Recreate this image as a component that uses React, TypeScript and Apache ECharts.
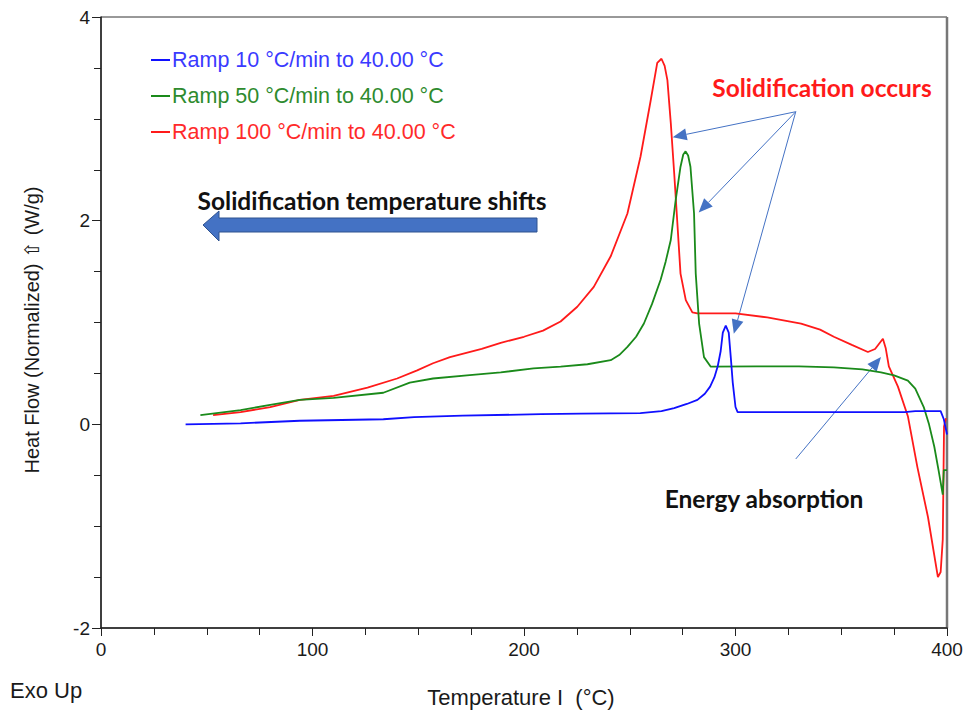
import React, { useEffect, useRef } from "react";
import * as echarts from "echarts";

const seriesNames = [
  "Ramp 10 °C/min to 40.00 °C",
  "Ramp 50 °C/min to 40.00 °C",
  "Ramp 100 °C/min to 40.00 °C",
];
const seriesColors = ["#1010ff", "#1a8a1a", "#ff1a1a"];
const legendTextColors = ["#3a3aff", "#2e8b2e", "#ff2a2a"];

const ramp10: [number, number][] = [
  [40, 0], [66, 0.01], [94, 0.035], [133.5, 0.05], [148, 0.07], [171, 0.085], [208, 0.1],
  [227, 0.105], [255, 0.11], [265, 0.13], [271, 0.16], [277, 0.2], [282, 0.24], [285.5, 0.3],
  [288, 0.37], [290, 0.46], [291.6, 0.57], [293, 0.72], [294, 0.9], [295.4, 0.97], [296.8, 0.9],
  [297.8, 0.65], [298.7, 0.41], [300, 0.17], [301, 0.12], [320, 0.12], [350, 0.12], [380, 0.12],
  [385, 0.13], [397, 0.13], [398.5, 0.05], [399.5, -0.05], [400, -0.1],
];

const ramp50: [number, number][] = [
  [47, 0.09], [66, 0.14], [80, 0.19], [94, 0.24], [110, 0.26], [133.5, 0.31], [146, 0.41],
  [157, 0.45], [173, 0.48], [189, 0.51], [204.5, 0.55], [217.3, 0.566], [230, 0.59], [241, 0.63],
  [245, 0.68], [248.9, 0.76], [253, 0.86], [256.7, 0.99], [260.5, 1.18], [264.6, 1.42],
  [267, 1.6], [269.4, 1.81], [271.7, 2.2], [274, 2.53], [275.3, 2.65], [276.4, 2.68],
  [277.6, 2.64], [278.7, 2.53], [280.4, 2.07], [281.2, 1.48], [282.8, 0.99], [285.1, 0.66],
  [288.3, 0.566], [310, 0.57], [330, 0.57], [346.5, 0.56], [360, 0.54], [368.8, 0.51], [375, 0.48],
  [381.5, 0.43], [385, 0.35], [389, 0.17], [391.5, 0], [394, -0.22], [396, -0.45], [398, -0.69],
  [398.5, -0.45], [400, -0.45],
];

const ramp100: [number, number][] = [
  [53, 0.09], [66, 0.12], [80, 0.17], [94, 0.24], [110, 0.28], [126, 0.36], [140, 0.45],
  [149.5, 0.53], [157, 0.6], [165, 0.66], [180, 0.74], [189, 0.8], [200, 0.86], [209, 0.92],
  [217.3, 1.01], [225.2, 1.155], [233, 1.35], [241, 1.65], [248.9, 2.07], [255.1, 2.63],
  [259.9, 3.18], [263, 3.55], [265, 3.59], [266.5, 3.52], [267.8, 3.38], [269.4, 2.96],
  [271, 2.47], [272.5, 1.98], [274, 1.48], [276.5, 1.22], [279.6, 1.1], [282, 1.09],
  [300, 1.09], [315, 1.05], [331, 0.99], [340, 0.93], [346.5, 0.86], [355, 0.78],
  [362.6, 0.71], [366, 0.74], [369.7, 0.84], [371, 0.75], [372.5, 0.57], [376.8, 0.37],
  [381.5, 0.08], [386, -0.42], [391, -0.91], [395.7, -1.5], [397, -1.45], [398, -1.13],
  [398.6, -0.02], [399.5, 0.06],
];

const xTicks = { min: 0, max: 400, interval: 100 };
const yTicks = { min: -2, max: 4, interval: 2 };

// Annotation arrows in data coordinates: [fromX, fromY, toX, toY]
const occursArrows: [number, number, number, number][] = [
  [328.5, 3.07, 270.3, 2.82],
  [328.5, 3.07, 282.6, 2.08],
  [328.5, 3.07, 299.2, 0.89],
];
const absorptionArrow: [number, number, number, number] = [328.5, -0.34, 368.8, 0.66];

const ARROW = "#4472C4";

function arrowGraphics(p0: number[], p1: number[]) {
  const dx = p1[0] - p0[0];
  const dy = p1[1] - p0[1];
  const len = Math.sqrt(dx * dx + dy * dy);
  const ux = dx / len;
  const uy = dy / len;
  const hl = 14;
  const hw = 6;
  const bx = p1[0] - ux * hl;
  const by = p1[1] - uy * hl;
  return [
    {
      type: "line",
      shape: { x1: p0[0], y1: p0[1], x2: bx, y2: by },
      style: { stroke: ARROW, lineWidth: 1 },
      silent: true,
    },
    {
      type: "polygon",
      shape: {
        points: [
          [p1[0], p1[1]],
          [bx - uy * hw, by + ux * hw],
          [bx + uy * hw, by - ux * hw],
        ],
      },
      style: { fill: ARROW },
      silent: true,
    },
  ];
}

export default function App() {
  const ref = useRef<HTMLDivElement>(null);

  useEffect(() => {
    if (!ref.current) return;
    const chart = echarts.init(ref.current, undefined, { renderer: "svg" });
    const axisColor = "#222";
    const tickFont = { fontSize: 19, color: "#1a1a1a", fontFamily: "Liberation Sans, Arial, sans-serif" };
    const seriesData = [ramp10, ramp50, ramp100];
    chart.setOption({
      animation: false,
      backgroundColor: "#fff",
      grid: { left: 101, right: 25, top: 17, bottom: 87, show: true, borderColor: "#333", borderWidth: 1 },
      legend: {
        orient: "vertical",
        left: 146,
        top: 44,
        itemWidth: 19,
        itemHeight: 2,
        itemGap: 14,
        icon: "rect",
        data: seriesNames.map((n, i) => ({
          name: n,
          textStyle: { color: legendTextColors[i] },
        })),
        textStyle: { fontSize: 21.5, fontFamily: "Liberation Sans, Arial, sans-serif", padding: [0, 0, 0, -3] },
      },
      xAxis: {
        type: "value",
        min: xTicks.min,
        max: xTicks.max,
        interval: xTicks.interval,
        axisLine: { onZero: false, lineStyle: { color: axisColor, width: 1.5 } },
        axisTick: { show: true, length: 8, lineStyle: { color: axisColor } },
        minorTick: { show: true, splitNumber: 4, length: 7, lineStyle: { color: axisColor } },
        splitLine: { show: false },
        axisLabel: { ...tickFont, margin: 12 },
      },
      yAxis: {
        type: "value",
        min: yTicks.min,
        max: yTicks.max,
        interval: yTicks.interval,
        axisLine: { onZero: false, lineStyle: { color: axisColor, width: 1.5 } },
        axisTick: { show: true, length: 9, lineStyle: { color: axisColor } },
        minorTick: { show: true, splitNumber: 4, length: 7, lineStyle: { color: axisColor } },
        splitLine: { show: false },
        axisLabel: { ...tickFont, margin: 11 },
      },
      series: seriesData.map((d, i) => ({
        name: seriesNames[i],
        type: "line",
        data: d,
        showSymbol: false,
        smooth: false,
        lineStyle: { color: seriesColors[i], width: 1.8 },
        itemStyle: { color: seriesColors[i] },
        z: 3 - i,
      })),
    });

    const toPx = (x: number, y: number) => chart.convertToPixel({ gridIndex: 0 }, [x, y]) as number[];
    const arrows: any[] = [];
    occursArrows.forEach((a) => arrows.push(...arrowGraphics(toPx(a[0], a[1]), toPx(a[2], a[3]))));
    arrows.push(...arrowGraphics(toPx(absorptionArrow[0], absorptionArrow[1]), toPx(absorptionArrow[2], absorptionArrow[3])));

    const annFont = "Lato, Open Sans, sans-serif";
    chart.setOption({
      graphic: [
        // right border (gray, thicker)
        {
          type: "line",
          shape: { x1: 947, y1: 17, x2: 947, y2: 628 },
          style: { stroke: "#777", lineWidth: 2.5 },
          silent: true,
        },
        // big arrow
        {
          type: "polygon",
          shape: {
            points: [
              [537, 218], [219, 218], [219, 211], [203, 225], [219, 241], [219, 232], [537, 232],
            ],
          },
          style: { fill: ARROW, stroke: "#2F528F", lineWidth: 1 },
          silent: true,
        },
        ...arrows,
        {
          type: "text",
          x: 372,
          y: 200,
          style: {
            text: "Solidification temperature shifts",
            fill: "#111",
            font: `bold 24.5px ${annFont}`,
            textAlign: "center",
            textVerticalAlign: "middle",
          },
        },
        {
          type: "text",
          x: 822,
          y: 87,
          style: {
            text: "Solidification occurs",
            fill: "#ff1a1a",
            font: `bold 24.5px ${annFont}`,
            textAlign: "center",
            textVerticalAlign: "middle",
          },
        },
        {
          type: "text",
          x: 764,
          y: 498,
          style: {
            text: "Energy absorption",
            fill: "#111",
            font: `bold 24.5px ${annFont}`,
            textAlign: "center",
            textVerticalAlign: "middle",
          },
        },
        {
          type: "text",
          x: 32,
          y: 330,
          rotation: Math.PI / 2,
          style: {
            text: "Heat Flow (Normalized) \u21E7 (W/g)",
            fill: "#1a1a1a",
            font: "20px Liberation Sans, Arial, sans-serif",
            textAlign: "center",
            textVerticalAlign: "middle",
          },
        },
        {
          type: "text",
          x: 521,
          y: 697,
          style: {
            text: "Temperature \u0399  (°C)",
            fill: "#1a1a1a",
            font: "22px Liberation Sans, Arial, sans-serif",
            textAlign: "center",
            textVerticalAlign: "middle",
          },
        },
        {
          type: "text",
          x: 10,
          y: 690,
          style: {
            text: "Exo Up",
            fill: "#1a1a1a",
            font: "22px Liberation Sans, Arial, sans-serif",
            textAlign: "left",
            textVerticalAlign: "middle",
          },
        },
      ],
    });

    return () => chart.dispose();
  }, []);

  return (
    <div
      ref={ref}
      style={{ position: "fixed", left: 0, top: 0, width: 972, height: 715, background: "#fff" }}
    />
  );
}
